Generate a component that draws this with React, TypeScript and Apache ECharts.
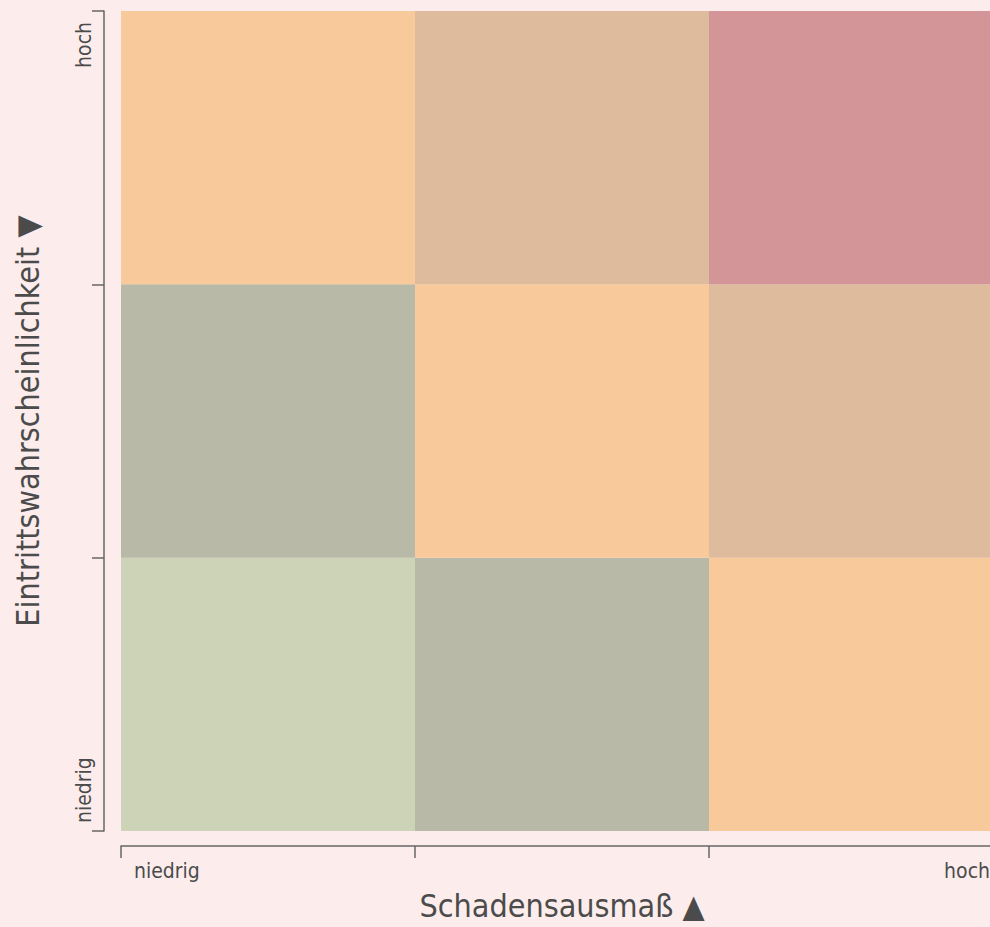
import React, { useEffect, useRef } from "react";
import * as echarts from "echarts";

// Tick labels at the four cell boundaries (0..3)
const xTickLabels = ["niedrig", "", "", "hoch"];
const yTickLabels = ["niedrig", "", "", "hoch"];
const xAxisTitle = "Schadensausmaß ▲";
const yAxisTitle = "Eintrittswahrscheinlichkeit ▼";

// Risk level per cell; rows from bottom (niedrig) to top (hoch), columns from left to right
const riskRowLow = [1, 2, 3];
const riskRowMid = [2, 3, 4];
const riskRowHigh = [3, 4, 5];

// Colour per risk level 1..5
const levelColors = ["#CDD3B7", "#B8B9A6", "#F8C99B", "#DFBB9D", "#D49598"];

const FONT = "'DejaVu Sans Condensed', 'Liberation Sans Narrow', sans-serif";
const TEXT = "#4b4b4b";
const AXIS = "#666666";

export default function App() {
  const ref = useRef<HTMLDivElement>(null);
  useEffect(() => {
    document.body.style.margin = "0";
    document.body.style.background = "#FCEDEC";
    const chart = echarts.init(ref.current!, null, { renderer: "svg" });
    const rows = [riskRowLow, riskRowMid, riskRowHigh];
    const data: number[][] = [];
    rows.forEach((row, yi) => row.forEach((lvl, xi) => data.push([xi, yi, lvl])));
    chart.setOption({
      animation: false,
      backgroundColor: "#FCEDEC",
      textStyle: { fontFamily: FONT },
      grid: { left: 121, top: 11, width: 882, height: 822, containLabel: false },
      xAxis: {
        type: "value",
        min: 0,
        max: 3,
        interval: 1,
        offset: 15,
        name: xAxisTitle,
        nameLocation: "middle",
        nameGap: 44,
        nameTextStyle: { fontSize: 32, color: TEXT, fontFamily: FONT },
        axisLine: { show: true, onZero: false, lineStyle: { color: AXIS, width: 1.5 } },
        axisTick: { show: true, length: 12, lineStyle: { color: AXIS, width: 1.5 } },
        splitLine: { show: false },
        axisLabel: {
          formatter: (v: number) => xTickLabels[Math.round(v)] ?? "",
          fontSize: 21,
          color: TEXT,
          fontFamily: FONT,
          margin: 14,
          padding: [0, 13, 0, 13],
          alignMinLabel: "left",
          alignMaxLabel: "right",
        },
      },
      yAxis: {
        type: "value",
        min: 0,
        max: 3,
        interval: 1,
        offset: 17,
        name: yAxisTitle,
        nameLocation: "middle",
        nameGap: 60,
        nameTextStyle: { fontSize: 32, color: TEXT, fontFamily: FONT },
        axisLine: { show: true, onZero: false, lineStyle: { color: AXIS, width: 1.5 } },
        axisTick: { show: true, length: 12, lineStyle: { color: AXIS, width: 1.5 } },
        splitLine: { show: false },
        axisLabel: {
          formatter: (v: number) => yTickLabels[Math.round(v)] ?? "",
          rotate: 90,
          fontSize: 21,
          color: TEXT,
          fontFamily: FONT,
          margin: 10,
          padding: [0, 11, 0, 8],
          alignMinLabel: "left",
          alignMaxLabel: "right",
        },
      },
      series: [
        {
          type: "custom",
          data,
          renderItem: (params: any, api: any) => {
            const x = api.value(0);
            const y = api.value(1);
            const lvl = api.value(2);
            const p0 = api.coord([x, y + 1]);
            const p1 = api.coord([x + 1, y]);
            return {
              type: "rect",
              shape: { x: p0[0], y: p0[1], width: p1[0] - p0[0], height: p1[1] - p0[1] },
              style: { fill: levelColors[lvl - 1] },
            };
          },
        },
      ],
    });
    return () => chart.dispose();
  }, []);
  return (
    <div style={{ position: "absolute", left: 0, top: 0, width: 990, height: 927, overflow: "hidden", background: "#FCEDEC" }}>
      <div ref={ref} style={{ width: 1020, height: 927 }} />
    </div>
  );
}
